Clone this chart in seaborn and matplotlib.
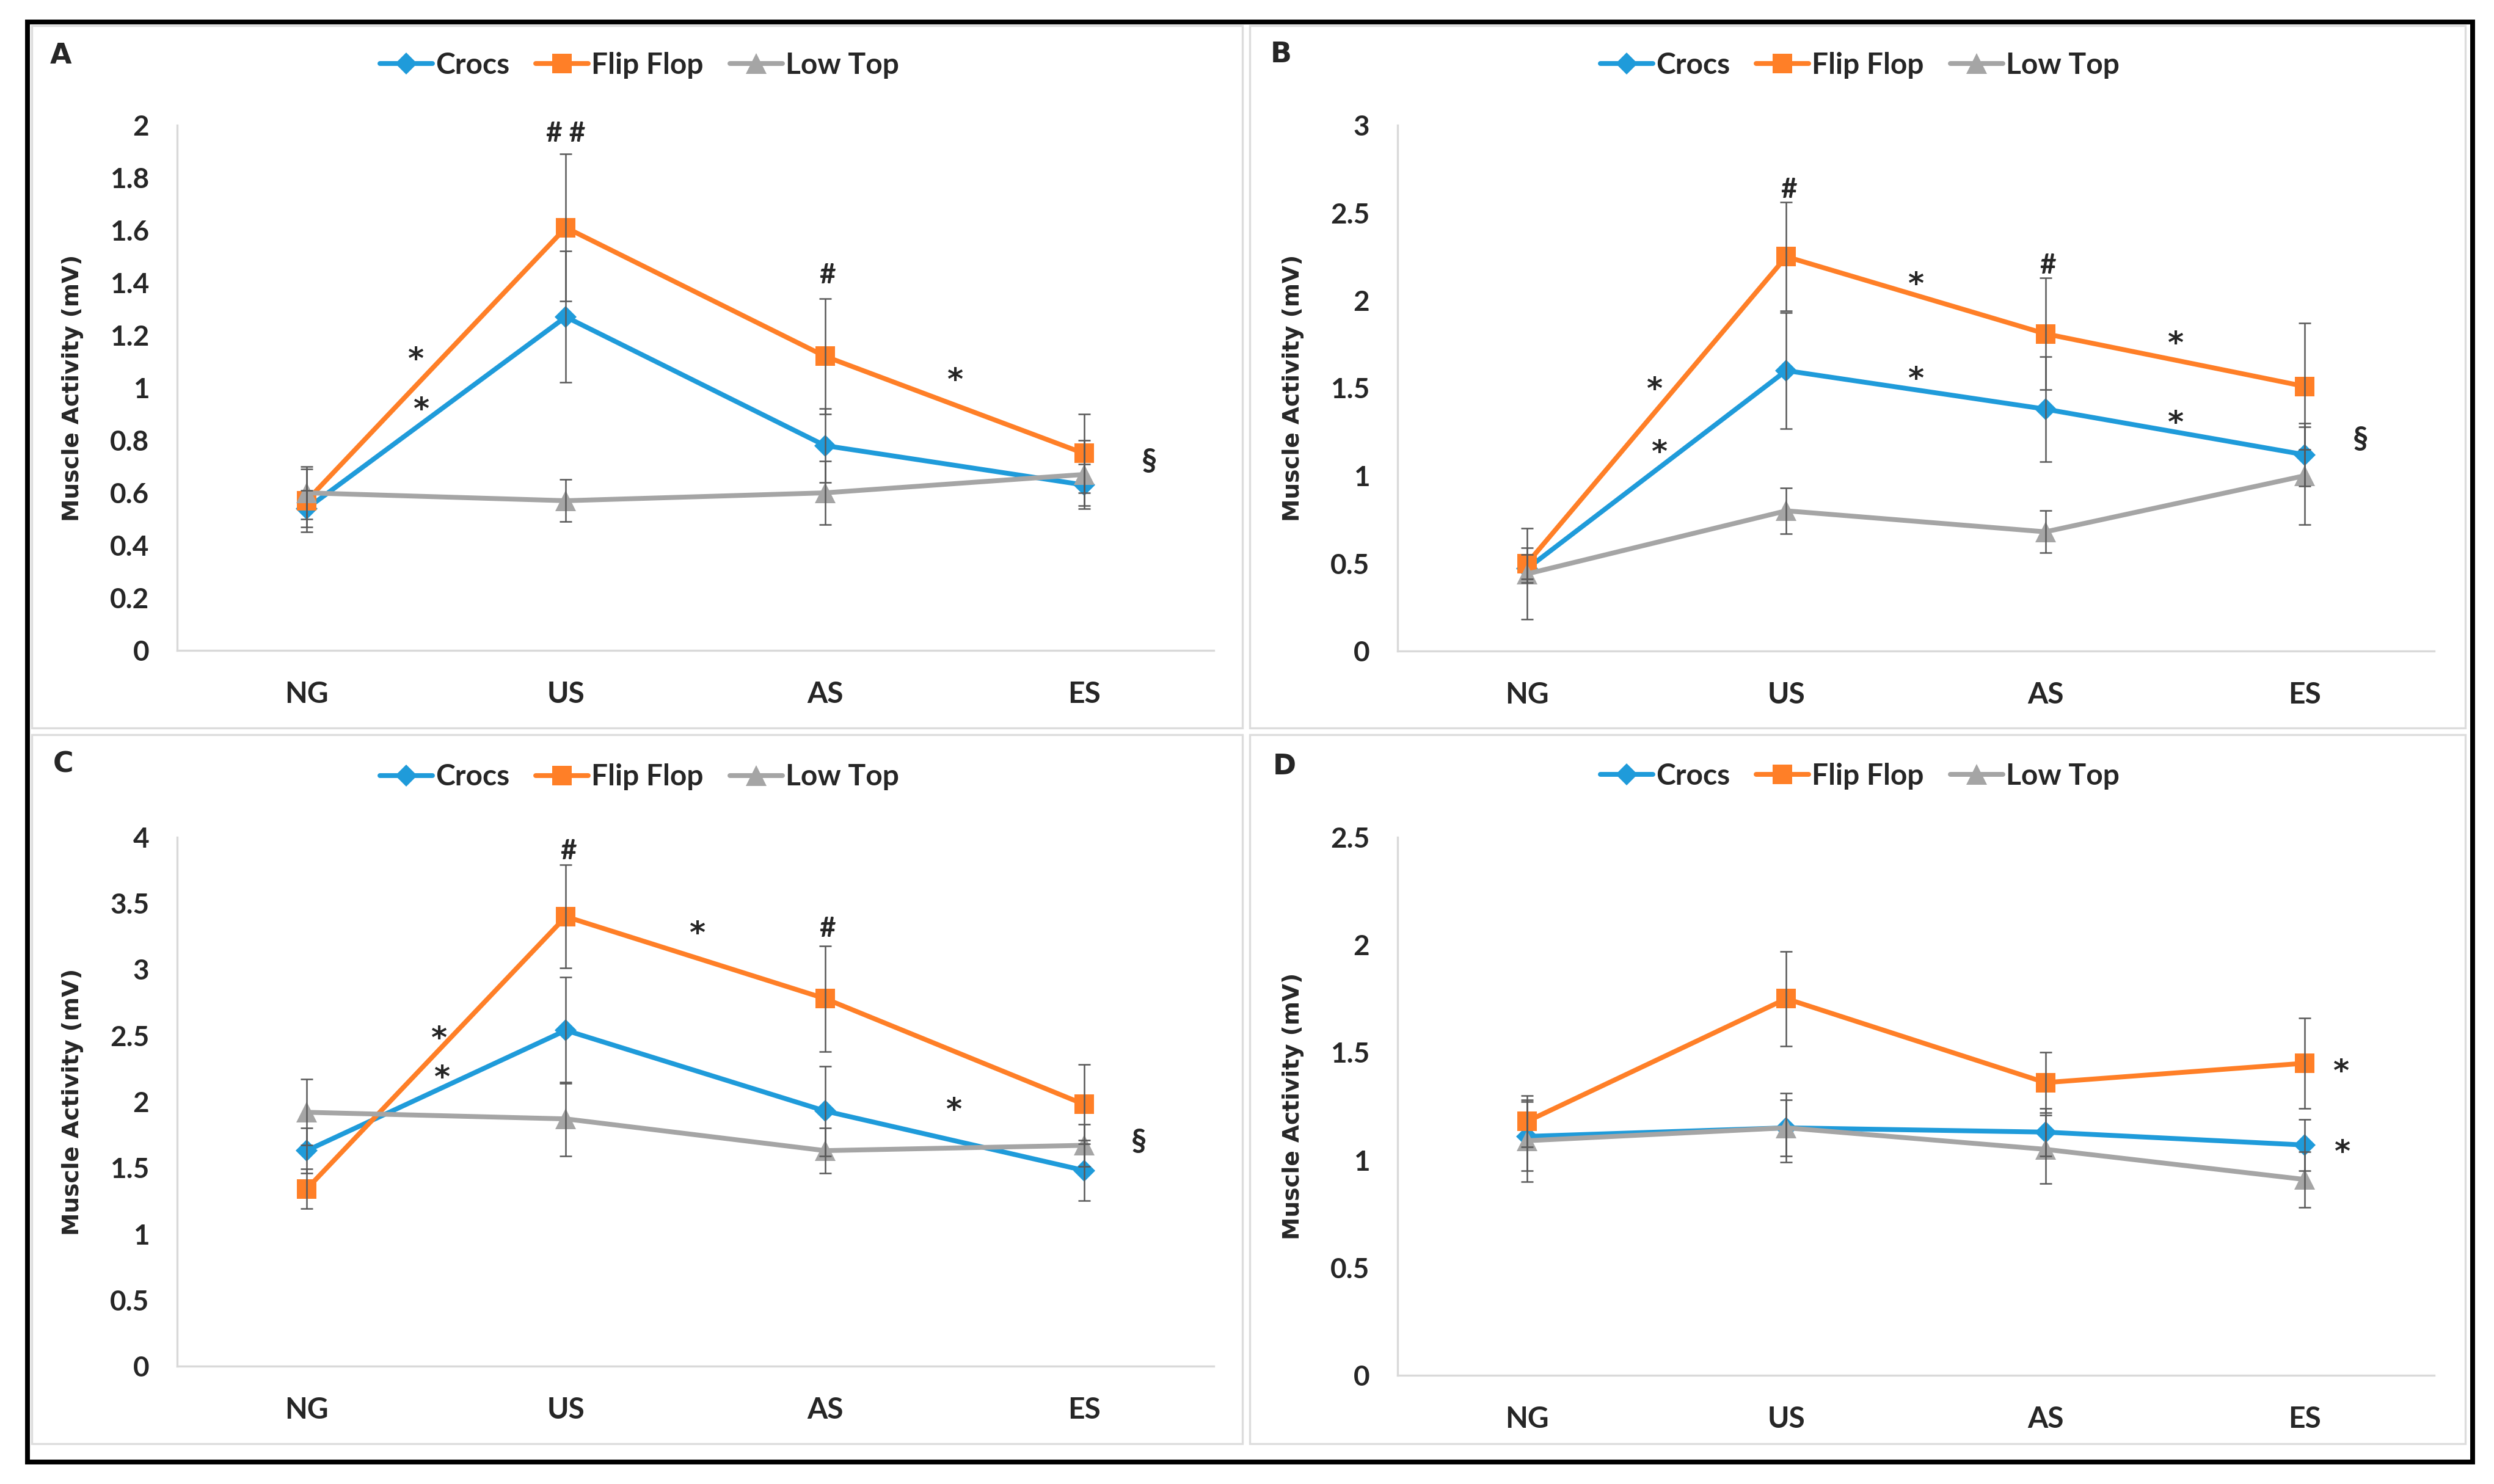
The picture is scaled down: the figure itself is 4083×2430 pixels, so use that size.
import matplotlib
matplotlib.use('Agg')
import matplotlib.pyplot as plt
import seaborn as sns
import numpy as np
from matplotlib import font_manager
from matplotlib.patches import Rectangle
from matplotlib.ticker import FuncFormatter, MultipleLocator

phases = ['NG', 'US', 'AS', 'ES']
shoes = ['Crocs', 'Flip Flop', 'Low Top']

# Panel A
a_crocs = [0.54, 1.27, 0.78, 0.63]
a_crocs_sd = [0.07, 0.25, 0.14, 0.08]
a_flip = [0.57, 1.61, 1.12, 0.75]
a_flip_sd = [0.12, 0.28, 0.22, 0.15]
a_low = [0.60, 0.57, 0.60, 0.67]
a_low_sd = [0.10, 0.08, 0.12, 0.13]

# Panel B
b_crocs = [0.47, 1.60, 1.38, 1.12]
b_crocs_sd = [0.08, 0.33, 0.30, 0.18]
b_flip = [0.50, 2.25, 1.81, 1.51]
b_flip_sd = [0.09, 0.31, 0.32, 0.36]
b_low = [0.44, 0.80, 0.68, 1.00]
b_low_sd = [0.26, 0.13, 0.12, 0.28]

# Panel C
c_crocs = [1.63, 2.54, 1.93, 1.48]
c_crocs_sd = [0.17, 0.40, 0.34, 0.23]
c_flip = [1.34, 3.40, 2.78, 1.98]
c_flip_sd = [0.15, 0.39, 0.40, 0.30]
c_low = [1.92, 1.87, 1.63, 1.67]
c_low_sd = [0.25, 0.28, 0.17, 0.16]

# Panel D
d_crocs = [1.11, 1.15, 1.13, 1.07]
d_crocs_sd = [0.16, 0.16, 0.11, 0.12]
d_flip = [1.18, 1.75, 1.36, 1.45]
d_flip_sd = [0.12, 0.22, 0.14, 0.21]
d_low = [1.09, 1.15, 1.05, 0.91]
d_low_sd = [0.19, 0.13, 0.16, 0.13]

# significance marks: (x position, y position, symbol)
a_marks = [(1.0, 1.975, '# #'), (2.01, 1.435, '#'), (0.42, 1.14, '*'), (0.44, 0.95, '*'),
           (2.50, 1.06, '*'), (3.25, 0.72, '§')]
b_marks = [(1.01, 2.64, '#'), (2.01, 2.21, '#'), (0.49, 1.54, '*'), (0.51, 1.18, '*'),
           (1.50, 2.14, '*'), (1.50, 1.60, '*'), (2.50, 1.80, '*'), (2.50, 1.35, '*'),
           (3.215, 1.21, '§')]
c_marks = [(1.01, 3.91, '#'), (2.01, 3.32, '#'), (0.51, 2.54, '*'), (0.52, 2.245, '*'),
           (1.505, 3.335, '*'), (2.495, 2.0, '*'), (3.21, 1.70, '§')]
d_marks = [(3.14, 1.45, '*'), (3.145, 1.075, '*')]

colors = {'Crocs': '#1F9BDA', 'Flip Flop': '#FF7F27', 'Low Top': '#A5A5A5'}
markers = {'Crocs': 'D', 'Flip Flop': 's', 'Low Top': '^'}
msizes = {'Crocs': 6, 'Flip Flop': 7.5, 'Low Top': 8}

sns.set_theme(style='white')
names = {f.name for f in font_manager.fontManager.ttflist}
label_font = 'Lato' if 'Lato' in names else 'Liberation Sans'
plt.rcParams['font.family'] = [label_font, 'DejaVu Sans']

W, H = 4083, 2430
fig = plt.figure(figsize=(W / 300, H / 300), dpi=300)
fig.patch.set_facecolor('white')

# outer black frame and grey panel frames
fig.patches.append(Rectangle((45 / W, 1 - 2394 / H), (4048 - 45) / W, (2394 - 36) / H,
                             transform=fig.transFigure, fill=False, edgecolor='black',
                             linewidth=1.9, zorder=0))
for (x0, y0, x1, y1) in [(52, 42, 2034, 1192), (2046, 42, 4036, 1192),
                         (52, 1203, 2034, 2364), (2046, 1203, 4036, 2364)]:
    fig.patches.append(Rectangle((x0 / W, 1 - y1 / H), (x1 - x0) / W, (y1 - y0) / H,
                                 transform=fig.transFigure, fill=False, edgecolor='#dcdcdc',
                                 linewidth=0.8, zorder=0))

panels = [
    ('A', [290, 205, 1987, 1065], 2.0, 0.2, (a_crocs, a_flip, a_low), (a_crocs_sd, a_flip_sd, a_low_sd), a_marks, (100, 91)),
    ('B', [2288, 205, 3985, 1066], 3.0, 0.5, (b_crocs, b_flip, b_low), (b_crocs_sd, b_flip_sd, b_low_sd), b_marks, (2097, 89)),
    ('C', [290, 1371, 1987, 2237], 4.0, 0.5, (c_crocs, c_flip, c_low), (c_crocs_sd, c_flip_sd, c_low_sd), c_marks, (104, 1252)),
    ('D', [2288, 1371, 3985, 2252], 2.5, 0.5, (d_crocs, d_flip, d_low), (d_crocs_sd, d_flip_sd, d_low_sd), d_marks, (2103, 1256)),
]

glyph_mid = {'*': 0.58, '#': 0.35, '# #': 0.35, '§': 0.30}

for letter, (l, t, r, b), ymax, step, series, sds, marks, lpos in panels:
    ax = fig.add_axes([l / W, 1 - b / H, (r - l) / W, (b - t) / H])
    for shoe, vals, sd in zip(shoes, series, sds):
        sns.lineplot(x=phases, y=vals, color=colors[shoe], marker=markers[shoe],
                     markersize=msizes[shoe], markeredgewidth=0, linewidth=1.9,
                     sort=False, label=shoe, ax=ax, zorder=3)
    for shoe, vals, sd in zip(shoes, series, sds):
        ax.errorbar(phases, vals, yerr=sd, fmt='none', ecolor='#595959',
                    elinewidth=0.6, capsize=2.3, capthick=0.6, zorder=5)

    ax.set_xlim(-0.5, 3.5)
    ax.set_ylim(0, ymax)
    ax.yaxis.set_major_locator(MultipleLocator(step))
    ax.yaxis.set_major_formatter(FuncFormatter(lambda v, p: f'{v:g}'))
    for side in ['top', 'right']:
        ax.spines[side].set_visible(False)
    for side in ['left', 'bottom']:
        ax.spines[side].set_color('#d9d9d9')
        ax.spines[side].set_linewidth(0.8)
    ax.tick_params(axis='y', length=0, pad=11, labelsize=11)
    ax.tick_params(axis='x', length=0, pad=12, labelsize=11.5)
    for lab in ax.get_xticklabels() + ax.get_yticklabels():
        lab.set_fontweight('bold')
    ax.set_xlabel('')
    ax.set_ylabel('Muscle Activity (mV)', fontsize=9, fontweight='bold',
                  family='DejaVu Sans')
    ax.yaxis.set_label_coords(-0.09, 0.5)

    ax.legend(loc='center', bbox_to_anchor=(0.446, 1.114), ncol=3, frameon=False,
              handlelength=1.8, handletextpad=0.1, columnspacing=0.9,
              prop={'family': label_font, 'weight': 'bold', 'size': 11.5})

    for x, y, s in marks:
        if s == '*':
            fs, fam = 12, 'DejaVu Sans'
        else:
            fs, fam = (12 if s == '§' else 11), label_font
        ax.annotate(s, (x, y), xytext=(0, -glyph_mid[s] * fs), textcoords='offset points',
                    ha='center', va='baseline', fontsize=fs, fontweight='bold',
                    family=fam, zorder=6)

    fig.text(lpos[0] / W, 1 - lpos[1] / H, letter, ha='center', va='center',
             fontsize=11, fontweight='bold', family='DejaVu Sans')

fig.savefig('out.png', dpi=300, facecolor='white')
